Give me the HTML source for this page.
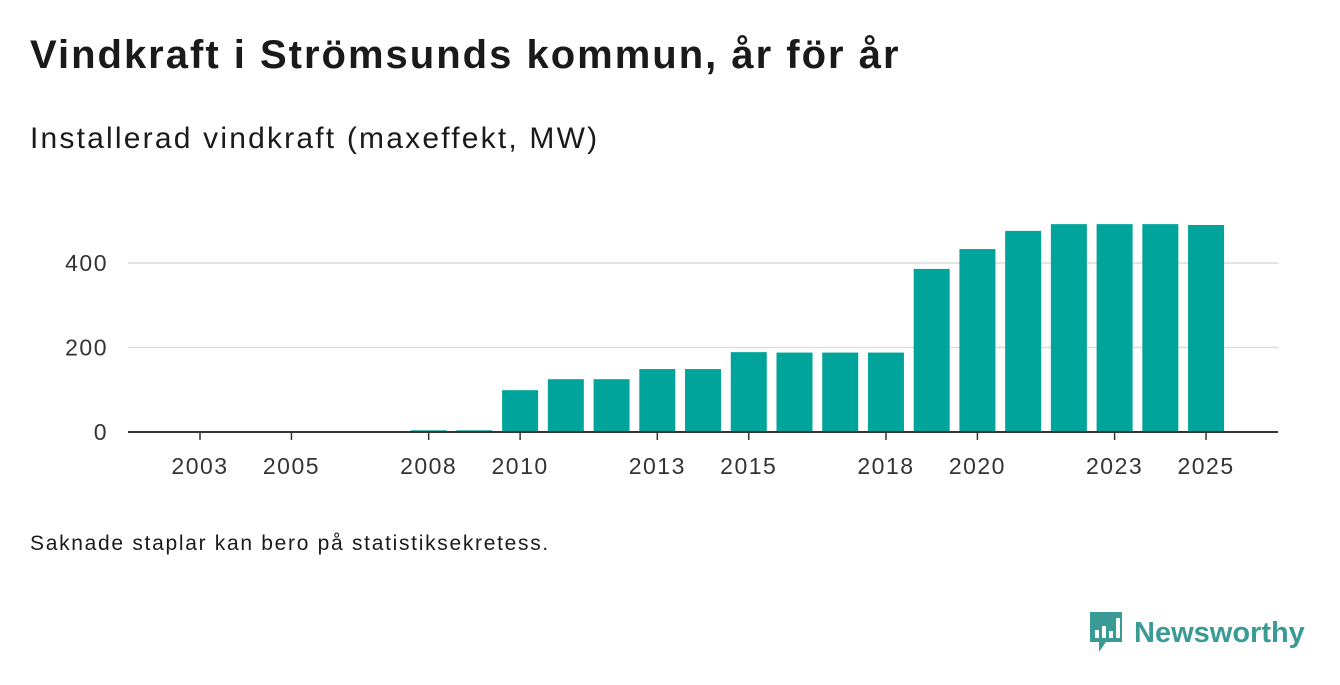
<!DOCTYPE html>
<html><head><meta charset="utf-8"><style>
body{margin:0;width:1340px;height:685px;background:#fff;font-family:"Liberation Sans",sans-serif;color:#1a1a1a;position:relative;overflow:hidden}
.t{position:absolute;left:30px;top:33px;font-size:40px;font-weight:bold;letter-spacing:2px}
.s{position:absolute;left:30px;top:122px;font-size:30px;letter-spacing:2.2px}
.n{position:absolute;left:30px;top:532px;font-size:21px;letter-spacing:1.7px}
.logo{position:absolute;left:1088px;top:612px;display:flex;align-items:center}
.logo span{font-size:29px;font-weight:bold;color:#3a9b96;margin-left:10px}
</style></head><body>
<div class="t">Vindkraft i Strömsunds kommun, år för år</div>
<div class="s">Installerad vindkraft (maxeffekt, MW)</div>
<svg id="c" width="1340" height="685" style="position:absolute;left:0;top:0"></svg>
<div class="n">Saknade staplar kan bero på statistiksekretess.</div>
<div class="logo">
<svg width="36" height="42" viewBox="0 0 36 42"><path d="M2 0H34V30H18L11 40V30H2Z" fill="#3a9b96"/><rect x="7" y="18" width="4" height="8" fill="#fff"/><rect x="14" y="14" width="4" height="12" fill="#fff"/><rect x="21" y="19" width="4" height="7" fill="#fff"/><rect x="28" y="6" width="4" height="20" fill="#fff"/></svg>
<span>Newsworthy</span></div>
<script>
const years=[2008,2009,2010,2011,2012,2013,2014,2015,2016,2017,2018,2019,2020,2021,2022,2023,2024,2025];
const values=[4,4,99,125,125,149,149,189,188,188,188,386,433,476,492,492,492,490];
const tickYears=[2003,2005,2008,2010,2013,2015,2018,2020,2023,2025];
const yTicks=[0,200,400];
const svg=document.getElementById('c'),NS='http://www.w3.org/2000/svg';
const x=y=>200+(y-2003)*45.73, yS=v=>432-v*0.4225;
function mk(t,a,p){const e=document.createElementNS(NS,t);for(const k in a)e.setAttribute(k,a[k]);(p||svg).appendChild(e);return e;}
yTicks.forEach(v=>{
 if(v>0){const l=mk('line',{x1:128,x2:1278,y1:yS(v),y2:yS(v),stroke:'#dcdcdc','stroke-width':1.5});
 
 }
 const t=mk('text',{x:108,y:yS(v)+8,'text-anchor':'end','font-size':23,'letter-spacing':1.5,fill:'#333'});t.textContent=v;
 
 
});
years.forEach((yr,i)=>{
 const r=mk('rect',{x:x(yr)-18,y:yS(values[i]),width:36,height:432-yS(values[i]),fill:'#00a49a'});
 
 
});
const ax=mk('line',{x1:128,x2:1278,y1:432,y2:432,stroke:'#333','stroke-width':2});


tickYears.forEach(yr=>{
 mk('line',{x1:x(yr),x2:x(yr),y1:432,y2:440,stroke:'#333','stroke-width':1.5});
 const t=mk('text',{x:x(yr),y:474,'text-anchor':'middle','font-size':23,'letter-spacing':1.5,fill:'#333'});t.textContent=yr;
 
 
});
</script>
</body></html>
